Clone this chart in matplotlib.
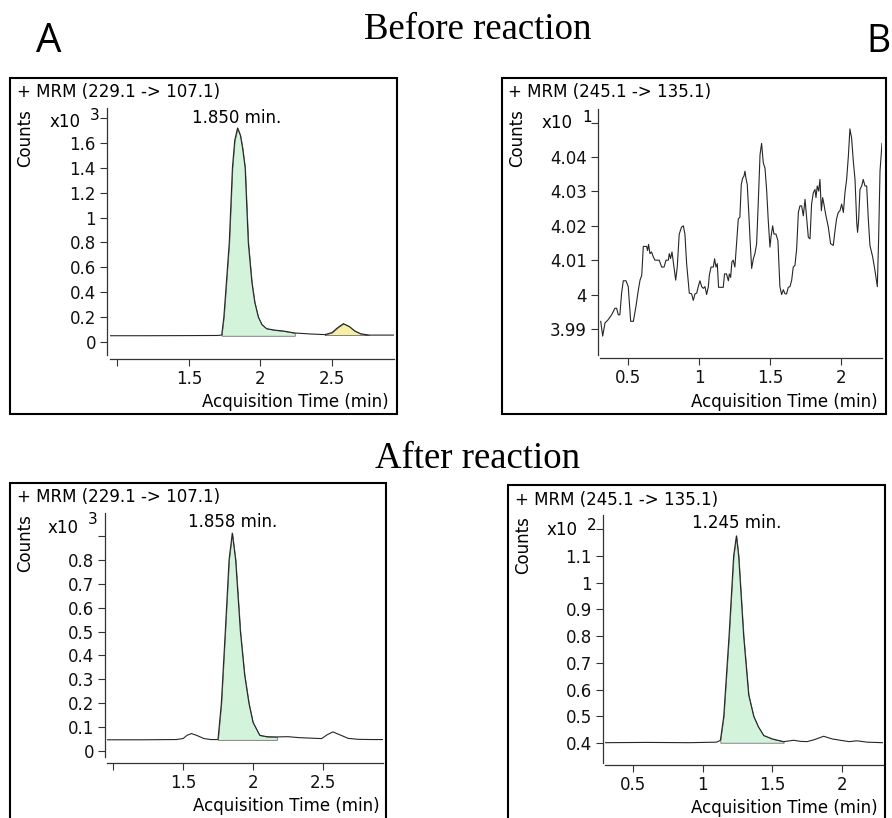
import matplotlib
matplotlib.use("Agg")
import matplotlib.pyplot as plt
from matplotlib.patches import Rectangle
import numpy as np

# ---------------- data ----------------
# Panel A, before reaction (x10^3 counts)
t_a1 = [0.948, 1.20, 1.50, 1.70, 1.729, 1.744, 1.76, 1.782, 1.804, 1.82, 1.84, 1.86, 1.875,
        1.893, 1.915, 1.94, 1.96, 1.985, 2.01, 2.043, 2.10, 2.16, 2.24, 2.35, 2.45, 2.50,
        2.54, 2.58, 2.62, 2.66, 2.70, 2.76, 2.85, 2.934]
c_a1 = [0.050, 0.050, 0.051, 0.052, 0.055, 0.20, 0.45, 0.80, 1.40, 1.62, 1.72, 1.66, 1.56,
        1.40, 0.80, 0.48, 0.32, 0.20, 0.14, 0.107, 0.095, 0.088, 0.072, 0.064, 0.059, 0.075,
        0.115, 0.147, 0.125, 0.088, 0.066, 0.055, 0.055, 0.055]

# Panel B, before reaction (x10^1 counts)
t_b1 = [0.308, 0.322, 0.338, 0.361, 0.385, 0.408, 0.420, 0.432, 0.443, 0.455, 0.467, 0.486,
        0.502, 0.514, 0.519, 0.538, 0.556, 0.573, 0.585, 0.597, 0.608, 0.631, 0.638, 0.645,
        0.655, 0.666, 0.678, 0.690, 0.706, 0.720, 0.737, 0.754, 0.768, 0.784, 0.791, 0.800,
        0.810, 0.824, 0.836, 0.847, 0.861, 0.877, 0.890, 0.901, 0.913, 0.932, 0.948, 0.960,
        0.972, 0.984, 0.995, 1.007, 1.019, 1.031, 1.042, 1.054, 1.066, 1.073, 1.085, 1.101,
        1.110, 1.120, 1.129, 1.138, 1.152, 1.171, 1.180, 1.194, 1.207, 1.214, 1.223, 1.232,
        1.241, 1.253, 1.265, 1.277, 1.288, 1.298, 1.307, 1.317, 1.324, 1.331, 1.340, 1.350,
        1.359, 1.371, 1.383, 1.394, 1.406, 1.418, 1.430, 1.441, 1.453, 1.465, 1.477, 1.488,
        1.500, 1.507, 1.519, 1.528, 1.542, 1.556, 1.570, 1.582, 1.594, 1.606, 1.617, 1.629,
        1.641, 1.653, 1.664, 1.676, 1.688, 1.700, 1.711, 1.723, 1.735, 1.747, 1.758, 1.770,
        1.782, 1.793, 1.805, 1.817, 1.824, 1.833, 1.843, 1.852, 1.862, 1.871, 1.880, 1.892,
        1.911, 1.927, 1.946, 1.958, 1.969, 1.981, 1.993, 2.005, 2.017, 2.028, 2.040, 2.052,
        2.063, 2.075, 2.087, 2.099, 2.111, 2.117, 2.124, 2.134, 2.146, 2.157, 2.169, 2.181,
        2.192, 2.204, 2.223, 2.239, 2.256, 2.265, 2.275, 2.289]
c_b1 = [3.9922, 3.9879, 3.9917, 3.9927, 3.9941, 3.9960, 3.9960, 3.9941, 3.9941, 4.0004,
        4.0040, 4.0040, 4.0023, 3.9950, 3.9922, 3.9922, 3.9965, 4.0013, 4.0042, 4.0056,
        4.0140, 4.0140, 4.0128, 4.0146, 4.0119, 4.0124, 4.0110, 4.0100, 4.0100, 4.0100,
        4.0080, 4.0080, 4.0100, 4.0100, 4.0119, 4.0105, 4.0124, 4.0080, 4.0042, 4.0080,
        4.0176, 4.0196, 4.0200, 4.0176, 4.0090, 4.0004, 4.0002, 3.9983, 4.0002, 4.0004,
        4.0023, 4.0040, 4.0023, 4.0018, 4.0023, 4.0000, 4.0023, 4.0056, 4.0080, 4.0080,
        4.0104, 4.0080, 4.0090, 4.0021, 4.0021, 4.0021, 4.0060, 4.0060, 4.0040, 4.0060,
        4.0050, 4.0095, 4.0100, 4.0080, 4.0148, 4.0220, 4.0225, 4.0320, 4.0338, 4.0345,
        4.0359, 4.0338, 4.0320, 4.0244, 4.0167, 4.0076, 4.0104, 4.0119, 4.0148, 4.0272,
        4.0407, 4.0440, 4.0383, 4.0368, 4.0301, 4.0215, 4.0138, 4.0167, 4.0200, 4.0176,
        4.0176, 4.0157, 4.0023, 4.0000, 4.0014, 4.0002, 4.0002, 4.0021, 4.0023, 4.0042,
        4.0080, 4.0085, 4.0133, 4.0239, 4.0258, 4.0258, 4.0229, 4.0277, 4.0224, 4.0167,
        4.0162, 4.0263, 4.0296, 4.0306, 4.0282, 4.0316, 4.0301, 4.0335, 4.0244, 4.0282,
        4.0263, 4.0234, 4.0196, 4.0148, 4.0143, 4.0186, 4.0220, 4.0239, 4.0244, 4.0263,
        4.0239, 4.0296, 4.0335, 4.0402, 4.0482, 4.0455, 4.0388, 4.0335, 4.0210, 4.0181,
        4.0215, 4.0306, 4.0316, 4.0335, 4.0316, 4.0316, 4.0224, 4.0143, 4.0110, 4.0071,
        4.0023, 4.0157, 4.0359, 4.0440]

# Panel A, after reaction (x10^3 counts)
t_a2 = [0.957, 1.20, 1.45, 1.50, 1.53, 1.56, 1.60, 1.65, 1.70, 1.75, 1.774, 1.802, 1.829,
        1.852, 1.876, 1.91, 1.94, 1.971, 2.00, 2.048, 2.10, 2.171, 2.25, 2.33, 2.49, 2.53,
        2.571, 2.62, 2.68, 2.75, 2.85, 2.929]
c_a2 = [0.047, 0.047, 0.048, 0.052, 0.066, 0.073, 0.065, 0.052, 0.048, 0.048, 0.20, 0.50,
        0.80, 0.912, 0.80, 0.50, 0.32, 0.20, 0.12, 0.066, 0.060, 0.059, 0.060, 0.056, 0.052,
        0.068, 0.080, 0.068, 0.053, 0.049, 0.048, 0.048]

# Panel B, after reaction (x10^2 counts)
t_b2 = [0.299, 0.60, 0.90, 1.10, 1.127, 1.151, 1.17, 1.189, 1.222, 1.242, 1.258, 1.294,
        1.33, 1.366, 1.40, 1.438, 1.50, 1.581, 1.653, 1.70, 1.749, 1.80, 1.868, 1.93, 1.988,
        2.05, 2.108, 2.18, 2.294]
c_b2 = [0.401, 0.402, 0.401, 0.403, 0.410, 0.50, 0.65, 0.80, 1.10, 1.175, 1.10, 0.80,
        0.58, 0.50, 0.46, 0.428, 0.415, 0.405, 0.410, 0.406, 0.405, 0.412, 0.425, 0.415,
        0.410, 0.405, 0.408, 0.403, 0.401]

titles = ["+ MRM (229.1 -> 107.1)", "+ MRM (245.1 -> 135.1)",
          "+ MRM (229.1 -> 107.1)", "+ MRM (245.1 -> 135.1)"]
peak_labels = ["1.850 min.", None, "1.858 min.", "1.245 min."]
exponents = ["3", "1", "3", "2"]

yt_a1 = [0, 0.2, 0.4, 0.6, 0.8, 1.0, 1.2, 1.4, 1.6, 1.8]
yl_a1 = ["0", "0.2", "0.4", "0.6", "0.8", "1", "1.2", "1.4", "1.6", ""]
yt_b1 = [3.99, 4.00, 4.01, 4.02, 4.03, 4.04, 4.05]
yl_b1 = ["3.99", "4", "4.01", "4.02", "4.03", "4.04", ""]
yt_a2 = [0, 0.1, 0.2, 0.3, 0.4, 0.5, 0.6, 0.7, 0.8, 0.9]
yl_a2 = ["0", "0.1", "0.2", "0.3", "0.4", "0.5", "0.6", "0.7", "0.8", ""]
yt_b2 = [0.4, 0.5, 0.6, 0.7, 0.8, 0.9, 1.0, 1.1, 1.2]
yl_b2 = ["0.4", "0.5", "0.6", "0.7", "0.8", "0.9", "1", "1.1", ""]
xt_a = [1.0, 1.5, 2.0, 2.5]
xl_a = ["", "1.5", "2", "2.5"]
xt_b = [0.5, 1.0, 1.5, 2.0]
xl_b = ["0.5", "1", "1.5", "2"]

# ---------------- layout ----------------
W, H = 892, 818
plt.rcParams['font.family'] = ['DejaVu Sans']
fig = plt.figure(figsize=(W / 100, H / 100), dpi=100)
fig.patch.set_facecolor("white")

LINE = "#262626"
GREEN = "#d3f3da"
YELLOW = "#f6f0a6"


def fx(x):
    return x / W


def fy(y):
    return 1 - y / H


def add_ax(x0, y0, x1, y1, xlim, ylim, lout, bout):
    ax = fig.add_axes([fx(x0), fy(y1), (x1 - x0) / W, (y1 - y0) / H])
    ax.set_xlim(*xlim)
    ax.set_ylim(*ylim)
    for s in ["top", "right"]:
        ax.spines[s].set_visible(False)
    ax.spines["left"].set_position(("outward", lout * 0.72))
    ax.spines["bottom"].set_position(("outward", bout * 0.72))
    for s in ["left", "bottom"]:
        ax.spines[s].set_color("#333333")
        ax.spines[s].set_linewidth(0.9)
    ax.tick_params(direction="out", length=5, width=0.8, color="#333333",
                   labelsize=12, pad=3, labelcolor="#111111")
    ax.patch.set_alpha(0)
    return ax


def box(x0, y0, x1, y1):
    fig.add_artist(Rectangle((fx(x0), fy(y1)), (x1 - x0) / W, (y1 - y0) / H,
                             transform=fig.transFigure, fill=False,
                             edgecolor="black", linewidth=1.5))


def texts(title_xy, counts_xy, x10_xy, exp_xy, exp, acq_xy, title, peak_xy=None, peak=None):
    fig.text(fx(title_xy[0]), fy(title_xy[1]), title, ha="left", va="center", fontsize=12)
    fig.text(fx(counts_xy[0]), fy(counts_xy[1]), "Counts", ha="center", va="center",
             rotation=90, fontsize=12)
    fig.text(fx(x10_xy[0]), fy(x10_xy[1]), "x10", ha="left", va="center", fontsize=12)
    fig.text(fx(exp_xy[0]), fy(exp_xy[1]), exp, ha="left", va="center", fontsize=11)
    fig.text(fx(acq_xy[0]), fy(acq_xy[1]), "Acquisition Time (min)", ha="right",
             va="center", fontsize=12)
    if peak:
        fig.text(fx(peak_xy[0]), fy(peak_xy[1]), peak, ha="center", va="center", fontsize=12)


# headers
fig.text(fx(49), fy(52), "A", ha="center", va="baseline", fontsize=29, family=["Open Sans"])
fig.text(fx(890), fy(52), "B", ha="right", va="baseline", fontsize=27, family=["Open Sans"])
fig.text(fx(478), fy(39), "Before reaction", ha="center", va="baseline", fontsize=26.5,
         family=["Liberation Serif"])
fig.text(fx(477), fy(468), "After reaction", ha="center", va="baseline", fontsize=26.5,
         family=["Liberation Serif"])

# boxes
box(10, 78, 397, 414)
box(502, 78, 886, 414)
box(10, 483, 386, 840)
box(508, 485, 885, 840)

# ---- panel 1 ----
ax1 = add_ax(110, 108, 394, 355, (0.948, 2.934), (-0.105, 1.881), 3, 4)
t = np.array(t_a1); c = np.array(c_a1)
ax1.fill_between(t, c, 0.050, where=(t >= 1.729) & (t <= 2.24), color=GREEN,
                 edgecolor="#555555", linewidth=0.5)
ax1.fill_between(t, c, 0.055, where=(t >= 2.45) & (t <= 2.76), color=YELLOW,
                 edgecolor="#555555", linewidth=0.5)
ax1.plot(t, c, color=LINE, lw=0.8)
ax1.set_yticks(yt_a1, yl_a1)
ax1.set_xticks(xt_a, xl_a)
texts((17, 92), (25, 138), (50, 122), (90, 116), exponents[0], (389, 402), titles[0],
      (237, 118), peak_labels[0])

# ---- panel 2 ----
ax2 = add_ax(600, 109, 882, 355, (0.303, 2.289), (3.9824, 4.054), 2, 3)
ax2.plot(t_b1, c_b1, color=LINE, lw=0.8)
ax2.set_yticks(yt_b1, yl_b1)
ax2.set_xticks(xt_b, xl_b)
texts((508, 92), (517, 138), (542, 123), (582, 117), exponents[1], (878, 402), titles[1])

# ---- panel 3 ----
ax3 = add_ax(107, 513, 383, 757, (0.957, 2.929), (-0.025, 0.996), 2, 6)
t = np.array(t_a2); c = np.array(c_a2)
ax3.fill_between(t, c, 0.047, where=(t >= 1.75) & (t <= 2.171), color=GREEN,
                 edgecolor="#555555", linewidth=0.5)
ax3.plot(t, c, color=LINE, lw=0.8)
ax3.set_yticks(yt_a2, yl_a2)
ax3.set_xticks(xt_a, xl_a)
texts((17, 497), (25, 543), (48, 528), (88, 519), exponents[2], (380, 806), titles[2],
      (233, 522), peak_labels[2])

# ---- panel 4 ----
ax4 = add_ax(605, 515, 883, 763, (0.299, 2.294), (0.325, 1.253), 2, 2)
t = np.array(t_b2); c = np.array(c_b2)
ax4.fill_between(t, c, 0.401, where=(t >= 1.127) & (t <= 1.581), color=GREEN,
                 edgecolor="#555555", linewidth=0.5)
ax4.plot(t, c, color=LINE, lw=0.8)
ax4.set_yticks(yt_b2, yl_b2)
ax4.set_xticks(xt_b, xl_b)
texts((515, 500), (523, 545), (547, 530), (587, 525), exponents[3], (878, 808), titles[3],
      (737, 523), peak_labels[3])

fig.savefig("out.png", dpi=100, facecolor="white")
